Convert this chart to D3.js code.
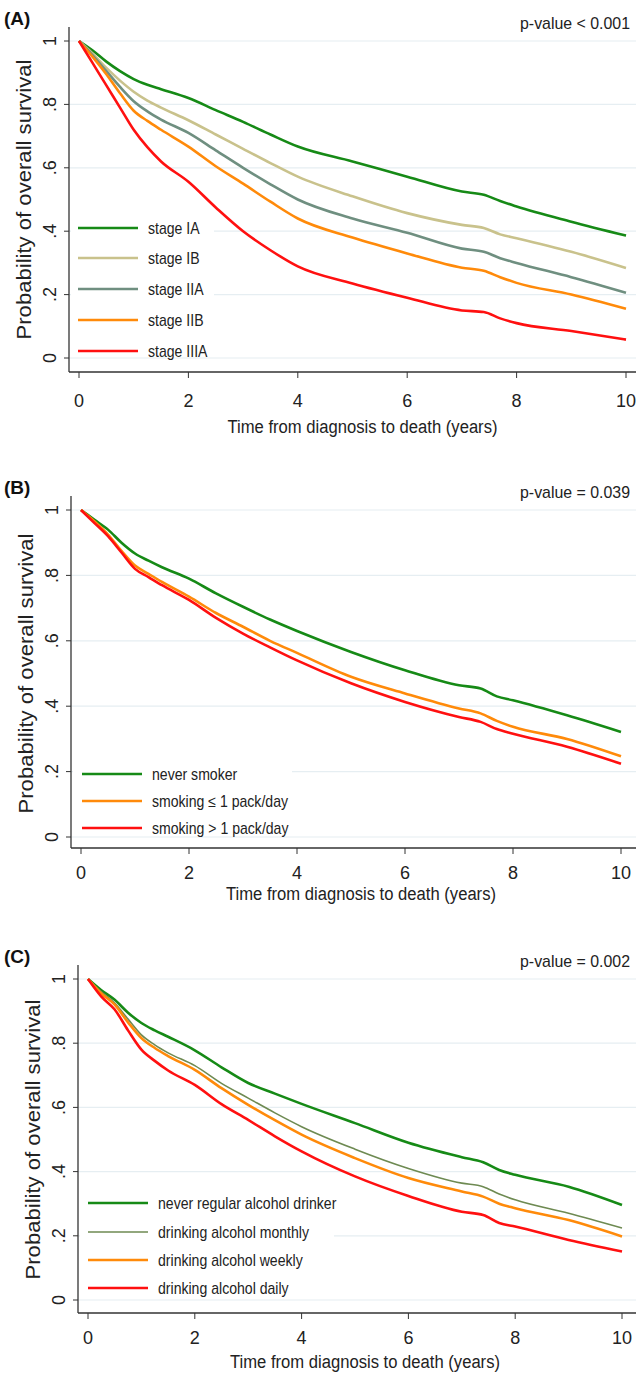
<!DOCTYPE html>
<html><head><meta charset="utf-8">
<script src="https://cdn.jsdelivr.net/npm/d3@7"></script>
<style>body{margin:0;background:#fff}text{font-family:"Liberation Sans",Arial,sans-serif}</style>
</head><body>
<script>
// time points (years) shared by every curve
var times = [0, 0.25, 0.5, 0.75, 1, 1.25, 1.5, 2, 2.5, 3, 3.5, 4, 5, 6, 7, 7.4, 7.7, 8, 9, 10];

// (A) stage
var stageNames = ["stage IA", "stage IB", "stage IIA", "stage IIB", "stage IIIA"];
var stageColors = ["#168a16", "#c9c28c", "#6f8f80", "#ff8a0a", "#ff1010"];
var stageIA   = [1, .97, .935, .905, .88, .862, .848, .82, .782, .745, .705, .667, .62, .572, .525, .515, .495, .478, .43, .386];
var stageIB   = [1, .96, .915, .875, .84, .812, .79, .75, .705, .66, .615, .572, .51, .457, .42, .41, .39, .378, .335, .284];
var stageIIA  = [1, .955, .905, .855, .81, .778, .752, .71, .655, .60, .548, .50, .44, .395, .345, .335, .315, .30, .255, .206];
var stageIIB  = [1, .95, .895, .835, .78, .748, .72, .667, .605, .55, .493, .44, .38, .33, .285, .275, .255, .237, .20, .155];
var stageIIIA = [1, .93, .86, .79, .72, .665, .62, .556, .475, .40, .34, .289, .235, .19, .15, .145, .125, .11, .085, .058];

// (B) smoking
var smokeNames = ["never smoker", "smoking \u2264 1 pack/day", "smoking > 1 pack/day"];
var smokeColors = ["#168a16", "#ff8a0a", "#ff1010"];
var smokeNever = [1, .97, .94, .90, .867, .845, .825, .79, .745, .704, .665, .63, .566, .51, .464, .454, .43, .418, .372, .321];
var smokeLow   = [1, .965, .925, .875, .83, .805, .78, .735, .685, .643, .60, .563, .49, .439, .393, .378, .355, .337, .30, .247];
var smokeHigh  = [1, .96, .92, .87, .82, .795, .77, .725, .67, .622, .58, .54, .47, .413, .367, .352, .33, .316, .276, .224];

// (C) alcohol
var alcNames = ["never regular alcohol drinker", "drinking alcohol monthly", "drinking alcohol weekly", "drinking alcohol daily"];
var alcColors = ["#168a16", "#6e8a52", "#ff8a0a", "#ff1010"];
var alcNever   = [1, .965, .935, .895, .863, .84, .82, .778, .725, .676, .643, .611, .551, .49, .445, .429, .405, .39, .353, .296];
var alcMonthly = [1, .96, .925, .875, .826, .795, .77, .73, .675, .629, .583, .54, .47, .41, .364, .353, .33, .312, .27, .224];
var alcWeekly  = [1, .955, .92, .865, .816, .785, .76, .717, .66, .608, .56, .515, .442, .38, .338, .322, .30, .286, .249, .198];
var alcDaily   = [1, .945, .905, .84, .78, .745, .715, .67, .61, .561, .51, .463, .385, .324, .275, .265, .24, .229, .187, .151];

var xTicks = [0, 2, 4, 6, 8, 10];
var yTicks = [0, .2, .4, .6, .8, 1];
var yTickLabels = ["0", ".2", ".4", ".6", ".8", "1"];

var svg = d3.select("body").append("svg").attr("width", 636).attr("height", 1374);

function panel(o) {
  var g = svg.append("g");
  var x = d3.scaleLinear().domain([0, 10]).range([o.x0, o.x10]);
  var y = d3.scaleLinear().domain([0, 1]).range([o.yZero, o.yOne]);

  // grid
  g.selectAll(".grid").data(yTicks).enter().append("line")
    .attr("x1", o.axisX).attr("x2", 636)
    .attr("y1", function(d) { return y(d); }).attr("y2", function(d) { return y(d); })
    .attr("stroke", "#e6eef2").attr("stroke-width", 1.2);

  // curves
  var line = d3.line().x(function(d) { return x(d[0]); }).y(function(d) { return y(d[1]); })
    .curve(d3.curveMonotoneX);
  o.series.forEach(function(s, i) {
    g.append("path").datum(times.map(function(t, j) { return [t, s[j]]; }))
      .attr("fill", "none").attr("stroke", o.colors[i])
      .attr("stroke-width", o.widths ? o.widths[i] : 2.6).attr("d", line);
  });

  // legend
  g.append("rect").attr("x", o.axisX + 2).attr("y", o.legY[0] - 12)
    .attr("width", o.legW).attr("height", o.yZero - o.legY[0] + 6).attr("fill", "#fff");
  o.names.forEach(function(n, i) {
    g.append("line").attr("x1", o.legX).attr("x2", o.legX + 60)
      .attr("y1", o.legY[i]).attr("y2", o.legY[i])
      .attr("stroke", o.colors[i]).attr("stroke-width", o.widths ? o.widths[i] : 2.6);
    g.append("text").attr("x", o.legX + 70).attr("y", o.legY[i] + 6)
      .attr("font-size", 16).attr("fill", "#222")
      .attr("transform", "translate(" + (o.legX + 70) + ",0) scale(0.88,1) translate(" + (-(o.legX + 70)) + ",0)")
      .text(n);
  });

  // axes
  g.append("line").attr("x1", o.axisX).attr("x2", o.axisX)
    .attr("y1", o.yOne - 14).attr("y2", o.axisY).attr("stroke", "#333").attr("stroke-width", 1.3);
  g.append("line").attr("x1", o.axisX).attr("x2", 636)
    .attr("y1", o.axisY).attr("y2", o.axisY).attr("stroke", "#333").attr("stroke-width", 1.3);
  yTicks.forEach(function(t, i) {
    g.append("line").attr("x1", o.axisX - 5).attr("x2", o.axisX)
      .attr("y1", y(t)).attr("y2", y(t)).attr("stroke", "#333");
    g.append("text").attr("transform", "translate(" + (o.axisX - 13) + "," + y(t) + ") rotate(-90)")
      .attr("text-anchor", "middle").attr("font-size", 18).attr("fill", "#222").text(yTickLabels[i]);
  });
  xTicks.forEach(function(t) {
    g.append("line").attr("x1", x(t)).attr("x2", x(t))
      .attr("y1", o.axisY).attr("y2", o.axisY + 6).attr("stroke", "#333");
    g.append("text").attr("x", x(t)).attr("y", o.axisY + o.tickDy)
      .attr("text-anchor", "middle").attr("font-size", 18).attr("fill", "#222").text(t);
  });
  g.append("text").attr("x", (o.x0 + o.x10) / 2 + 10).attr("y", o.axisY + o.titleDy)
    .attr("text-anchor", "middle").attr("font-size", 18).attr("fill", "#222")
    .attr("textLength", 270).attr("lengthAdjust", "spacingAndGlyphs")
    .text("Time from diagnosis to death (years)");
  g.append("text").attr("transform", "translate(" + (o.axisX - 38) + "," + ((o.yOne + o.yZero) / 2) + ") rotate(-90)")
    .attr("text-anchor", "middle").attr("font-size", 20).attr("fill", "#222")
    .attr("textLength", 280).attr("lengthAdjust", "spacingAndGlyphs")
    .text("Probability of overall survival");
  g.append("text").attr("x", 4).attr("y", o.yOne - 16)
    .attr("font-size", 19).attr("font-weight", "bold").attr("fill", "#111").text(o.label);
  g.append("text").attr("x", 630).attr("y", o.yOne - 12).attr("text-anchor", "end")
    .attr("font-size", 17).attr("fill", "#222")
    .attr("textLength", 110).attr("lengthAdjust", "spacingAndGlyphs").text(o.p);
}

panel({label: "(A)", p: "p-value < 0.001", axisX: 69, axisY: 372, x0: 79, x10: 626, yOne: 41, yZero: 358,
  tickDy: 35, titleDy: 61,
  series: [stageIA, stageIB, stageIIA, stageIIB, stageIIIA], names: stageNames, colors: stageColors,
  legX: 78, legY: [228, 258, 289, 320, 351], legW: 143});
panel({label: "(B)", p: "p-value = 0.039", axisX: 71, axisY: 848, x0: 81, x10: 621, yOne: 510, yZero: 837,
  tickDy: 31, titleDy: 52,
  series: [smokeNever, smokeLow, smokeHigh], names: smokeNames, colors: smokeColors,
  legX: 82, legY: [774, 801, 828], legW: 219});
panel({label: "(C)", p: "p-value = 0.002", axisX: 78, axisY: 1313, x0: 88, x10: 622, yOne: 979, yZero: 1300,
  tickDy: 31, titleDy: 55,
  series: [alcNever, alcMonthly, alcWeekly, alcDaily], names: alcNames, colors: alcColors,
  widths: [2.6, 1.6, 2.6, 2.6],
  legX: 88, legY: [1203, 1232, 1260, 1288], legW: 254});
</script>
</body></html>
